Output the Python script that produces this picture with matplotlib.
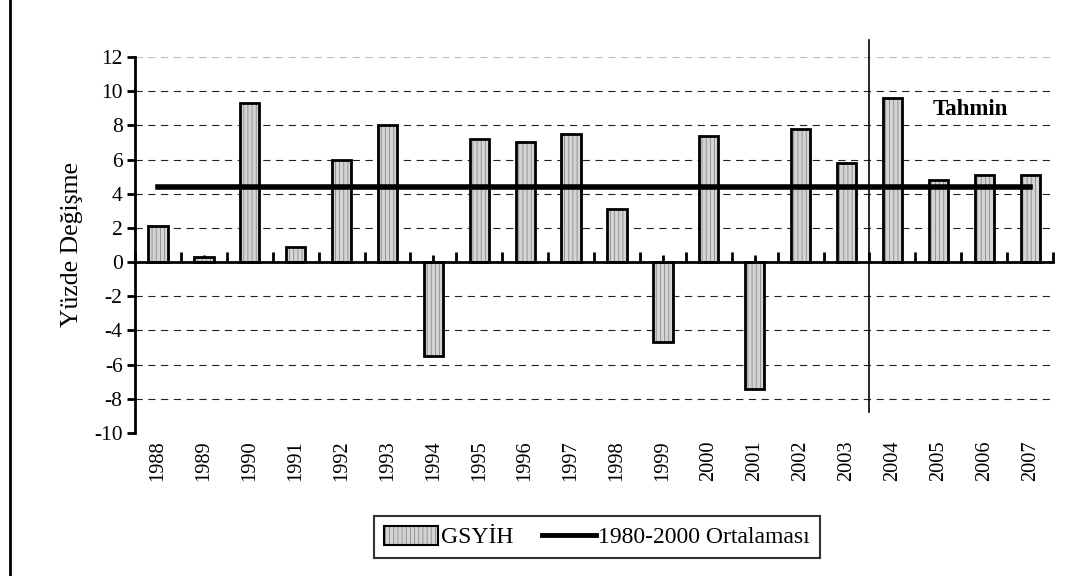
import matplotlib.pyplot as plt
from matplotlib.patches import Patch
from matplotlib.lines import Line2D
from matplotlib.legend_handler import HandlerTuple
import numpy as np

years = ['1988', '1989', '1990', '1991', '1992', '1993', '1994', '1995', '1996', '1997',
         '1998', '1999', '2000', '2001', '2002', '2003', '2004', '2005', '2006', '2007']
gsyih = [2.1, 0.3, 9.3, 0.9, 6.0, 8.0, -5.5, 7.2, 7.0, 7.5,
         3.1, -4.7, 7.4, -7.4, 7.8, 5.8, 9.6, 4.8, 5.1, 5.1]
ortalama = 4.4
yticks = [12, 10, 8, 6, 4, 2, 0, -2, -4, -6, -8, -10]

plt.rcParams['font.family'] = ['Liberation Serif', 'DejaVu Serif']
plt.rcParams['hatch.linewidth'] = 0.6

fig = plt.figure(figsize=(10.7, 5.76), dpi=100)
ax = fig.add_axes([0.1262, 0.2483, 0.858, 0.6528])

x = np.arange(len(years))
# hatched fill then black outline
ax.bar(x, gsyih, width=0.42, color='#d4d4d4', edgecolor='#8a8a8a', hatch='||||', linewidth=0, zorder=2)
ax.bar(x, gsyih, width=0.42, fill=False, edgecolor='black', linewidth=2, zorder=3)

# mean line
ax.plot([x[0], x[-1]], [ortalama, ortalama], color='black', linewidth=4, zorder=4)

# forecast separator
ax.plot([15.5, 15.5], [13.0, -8.8], color='black', linewidth=1.2, clip_on=False, zorder=4)
ax.text(17.7, 8.9, 'Tahmin', fontsize=16.5, fontweight='bold', ha='center', va='center')

ax.set_xlim(-0.5, 19.5)
ax.set_ylim(-10, 12)
ax.set_yticks(yticks)
ax.set_yticklabels([str(v) for v in yticks], fontsize=15.5)
for v in yticks:
    if v not in (0, -10):
        ax.axhline(v, color='#bbbbbb' if v == 12 else '#222222', linestyle=(0, (6.5, 5)),
                   linewidth=0.8, zorder=1)

for s in ['top', 'right']:
    ax.spines[s].set_visible(False)
ax.spines['bottom'].set_position(('data', 0))
ax.spines['bottom'].set_linewidth(2)
ax.spines['left'].set_linewidth(2)
ax.spines['bottom'].set_zorder(5)

ax.tick_params(axis='y', direction='out', length=6, width=2, pad=3)
ax.set_xticks(np.arange(-0.5, 20, 1))
ax.set_xticklabels([])
ax.set_xticks(x, minor=True)
ax.tick_params(axis='x', which='major', direction='in', length=7, width=2)
ax.tick_params(axis='x', which='minor', direction='in', length=5, width=2)

trans = ax.get_xaxis_transform()
for xi, yr in zip(x, years):
    ax.text(xi, -0.02, yr, transform=trans, rotation=90, ha='center', va='top', fontsize=14.7)

ax.set_ylabel('Yüzde Değişme', fontsize=18.5, labelpad=8)

h_bar = (Patch(facecolor='#d4d4d4', edgecolor='#8a8a8a', hatch='||||', linewidth=0),
         Patch(fill=False, edgecolor='black', linewidth=1.5))
h_line = Line2D([], [], color='black', linewidth=3.5)
leg = fig.legend([h_bar, h_line], ['GSYİH', '1980-2000 Ortalaması'],
                 handler_map={tuple: HandlerTuple(ndivide=1, pad=0)},
                 loc='center', bbox_to_anchor=(597 / 1070, 1 - 537 / 576),
                 ncol=2, fontsize=17, frameon=True, fancybox=False, handlelength=2.3,
                 handleheight=0.9, handletextpad=0.1, columnspacing=1.2,
                 borderpad=0.42, borderaxespad=0)
leg.get_frame().set_edgecolor('black')
leg.get_frame().set_linewidth(1.5)

fig.add_artist(Line2D([10 / 1070, 10 / 1070], [0, 1], color='black', linewidth=2,
                      transform=fig.transFigure))

fig.savefig('out.png', dpi=100)
